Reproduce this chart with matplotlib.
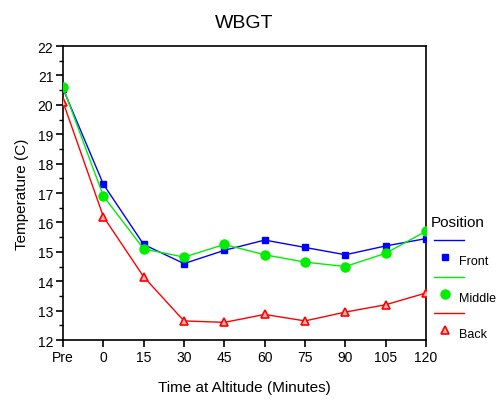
import matplotlib
matplotlib.use("Agg")
import matplotlib.pyplot as plt
from matplotlib.lines import Line2D
from matplotlib.ticker import MultipleLocator

plt.rcParams['font.family'] = ['Liberation Sans', 'DejaVu Sans']

time_labels = ["Pre", "0", "15", "30", "45", "60", "75", "90", "105", "120"]
front = [20.55, 17.3, 15.25, 14.6, 15.05, 15.4, 15.15, 14.9, 15.2, 15.45]
middle = [20.6, 16.9, 15.1, 14.82, 15.25, 14.9, 14.65, 14.5, 14.95, 15.7]
back = [20.1, 16.2, 14.15, 12.65, 12.6, 12.87, 12.65, 12.95, 13.2, 13.6]

series = [
    ("Front", front, "#0000ff", dict(marker="s", markersize=4, markerfacecolor="#0000ff",
                                     markeredgecolor="#0000ff")),
    ("Middle", middle, "#00ee00", dict(marker="o", markersize=6.5, markerfacecolor="#00ee00",
                                       markeredgecolor="#00ee00")),
    ("Back", back, "#ff0000", dict(marker="^", markersize=6, markerfacecolor="#ffb0b0",
                                   markeredgecolor="#ff0000", markeredgewidth=1.2)),
]

fig = plt.figure(figsize=(5.02, 4.02), dpi=100)
ax = fig.add_axes([0.1255, 0.1517, 0.7231, 0.7313])

x = list(range(len(time_labels)))
for name, vals, color, mk in series:
    ax.plot(x, vals, color=color, linewidth=1.0, **mk, zorder=3)

ax.set_xlim(0, len(time_labels) - 1)
ax.set_ylim(12, 22)
ax.set_xticks(x)
ax.set_xticklabels(time_labels)
ax.yaxis.set_major_locator(MultipleLocator(1))
ax.yaxis.set_minor_locator(MultipleLocator(0.5))
ax.tick_params(axis="both", which="major", direction="out", length=5, width=1.2,
               labelsize=10, colors="black", pad=2)
ax.tick_params(axis="y", which="minor", direction="out", length=3, width=1.0)
for s in ax.spines.values():
    s.set_linewidth(1.2)
for lbl in ax.get_xticklabels() + ax.get_yticklabels():
    lbl.set_clip_on(False)

ax.set_title("WBGT", fontsize=14, pad=14)
ax.set_xlabel("Time at Altitude (Minutes)", fontsize=11, labelpad=12)
ax.set_ylabel("Temperature (C)", fontsize=11, labelpad=6)

# Legend drawn in figure coordinates to the right of the plot
W, H = 502.0, 402.0
fig.text(431 / W, 1 - 223 / H, "Position", fontsize=11, va="center", ha="left")
entry_y = [241, 278, 314]
for (name, vals, color, mk), ly in zip(series, entry_y):
    fig.add_artist(Line2D([434 / W, 464 / W], [1 - ly / H, 1 - ly / H],
                          color=color, linewidth=1.0, transform=fig.transFigure))
    fig.add_artist(Line2D([445 / W], [1 - (ly + 17) / H], linestyle="none",
                          color=color, transform=fig.transFigure, **mk))
    fig.text(459 / W, 1 - (ly + 21) / H, name, fontsize=9, va="center", ha="left")

fig.savefig("out.png", dpi=100)
